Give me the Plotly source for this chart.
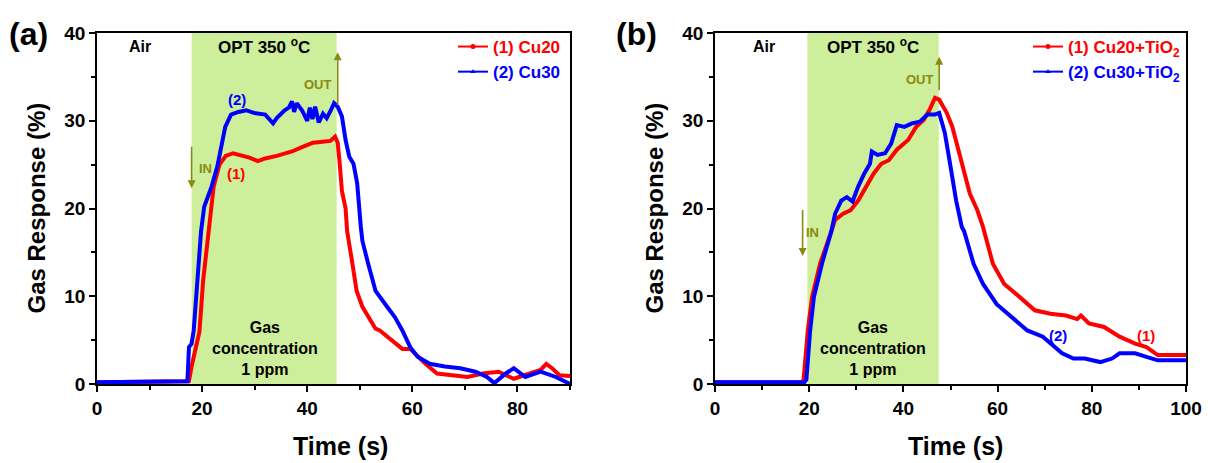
import plotly.graph_objects as go

# ---------------- Data ----------------
# Panel (a)
a_cu20_t = [0, 5, 10, 15, 17.5, 18, 18.5, 19, 19.5, 20.2, 21.3, 22.2, 23.3, 24.5, 25.9, 27.5, 29, 30.6, 32,
            34.2, 37.1, 39, 41.1, 42.9, 44.4, 45.3, 45.8, 46.2, 46.6, 47.3, 47.6, 48.6, 49.4, 50.5, 51.6, 53,
            53.8, 55.2, 56.7, 58.1, 59.6, 61, 62.5, 64.7, 67.6, 70.5, 73.4, 76.4, 79.3, 82.2, 84.4, 85.5, 86.6,
            88, 90]
a_cu20_r = [0.2, 0.2, 0.2, 0.2, 0.3, 2.0, 3.5, 5.0, 6.0, 11.8, 17.4, 22.5, 25.0, 26.0, 26.3, 26.1, 25.8, 25.4,
            25.7, 26.0, 26.5, 27.0, 27.5, 27.6, 27.7, 28.2, 27.5, 25.0, 22.0, 20.0, 17.4, 13.7, 10.6, 8.8, 7.6,
            6.3, 6.1, 5.4, 4.6, 4.0, 4.0, 3.1, 2.3, 1.2, 1.0, 0.8, 1.2, 1.4, 0.6, 1.2, 1.6, 2.3, 1.8, 1.0, 0.9]

a_cu30_t = [0, 5, 10, 15, 17.2, 17.5, 18, 18.4, 18.9, 19.3, 19.8, 20.4, 21.1, 21.8, 22.9, 23.6, 24.4, 25.5,
            26.9, 28.4, 29.8, 32, 33.5, 34.2, 35.7, 36.5, 37.1, 37.5, 38, 39, 40, 40.5, 41, 41.5, 42.2, 43,
            43.7, 44.5, 45.1, 45.8, 46.6, 47.3, 48, 48.8, 49.5, 50.2, 50.5, 51.6, 53, 55.2, 56.7, 58.1, 59.6,
            61, 63.3, 66.2, 69.1, 72, 74.2, 75.6, 77.8, 79.3, 81.5, 84.4, 87.3, 90]
a_cu30_r = [0.2, 0.2, 0.2, 0.2, 0.3, 4.2, 4.6, 6.1, 9.9, 13.7, 17.4, 20.2, 21.3, 22.5, 24.8, 27.0, 29.3, 30.7,
            31.0, 31.2, 30.9, 30.7, 29.7, 30.3, 31.2, 31.5, 32.2, 31.0, 32.0, 31.2, 30.0, 31.5, 30.2, 31.6,
            29.8, 30.8, 30.3, 31.2, 32.0, 31.6, 30.5, 27.8, 25.9, 25.1, 22.9, 17.9, 16.3, 13.7, 10.6, 8.8,
            7.6, 6.1, 4.2, 3.1, 2.3, 2.0, 1.8, 1.4, 0.8, 0.1, 1.2, 1.8, 0.8, 1.4, 0.8, 0.0]

# Panel (b)
b_cu20_t = [0, 5, 10, 15, 18.5, 18.8, 19.7, 20.6, 22.3, 24.7, 25.5, 27.2, 28.8, 30.4, 32, 33.7, 35.3, 36.9,
            38.6, 41, 42.7, 44.3, 45.5, 46.7, 47.6, 49.2, 50.4, 51.6, 52.9, 54.1, 55.7, 56.9, 59, 61.4, 64.7,
            67.9, 71.2, 74.5, 76.9, 77.7, 79.4, 82.6, 85.9, 89.2, 91.6, 94, 100]
b_cu20_r = [0.2, 0.2, 0.2, 0.2, 0.2, 0.5, 6.1, 9.9, 13.7, 17.4, 18.7, 19.4, 19.8, 20.9, 22.5, 24.0, 25.1,
            25.5, 26.7, 27.8, 29.3, 30.1, 31.2, 32.6, 32.4, 30.9, 29.3, 26.7, 24.0, 21.7, 19.8, 17.9, 13.7,
            11.4, 9.9, 8.4, 8.0, 7.8, 7.4, 7.8, 6.9, 6.5, 5.4, 4.6, 4.2, 3.3, 3.3]

b_cu30_t = [0, 5, 10, 15, 19, 19.4, 20.2, 21, 22.7, 24.7, 25.5, 26.8, 28, 29.2, 30.4, 31.7, 32.9, 33.3, 34.5,
            36.1, 37.4, 38.6, 40.2, 41.8, 43.5, 45.1, 46.7, 47.6, 48.8, 50, 51.2, 52.4, 52.9, 54.9, 56.9,
            59.8, 63, 66.3, 69.6, 71.2, 73.7, 76.1, 78.5, 81.8, 84.3, 85.9, 89.2, 91.6, 94, 100]
b_cu30_r = [0.2, 0.2, 0.2, 0.2, 0.2, 0.5, 6.1, 9.9, 13.7, 17.4, 19.4, 20.9, 21.3, 20.8, 22.5, 24.0, 25.1,
            26.5, 26.1, 26.3, 27.4, 29.5, 29.3, 29.7, 29.9, 30.7, 30.7, 30.9, 28.6, 24.8, 20.9, 17.9, 17.4,
            13.7, 11.4, 9.1, 7.6, 6.1, 5.4, 4.6, 3.5, 2.9, 2.9, 2.5, 2.9, 3.5, 3.5, 3.1, 2.7, 2.7]

a_names = ["(1) Cu20", "(2) Cu30"]
b_names = ["(1) Cu20+TiO<sub>2</sub>", "(2) Cu30+TiO<sub>2</sub>"]
a_gas_window = [18.0, 45.6]
b_gas_window = [19.6, 47.5]
x_ticks_a = [0, 20, 40, 60, 80]
x_ticks_b = [0, 20, 40, 60, 80, 100]
y_ticks = [0, 10, 20, 30, 40]

# ---------------- Styling ----------------
RED = "#ff0000"
BLUE = "#0000ff"
GREEN = "#cdee9a"
OLIVE = "#8a8a10"
FONT = "Liberation Sans, Arial, sans-serif"
W, H = 1208, 463

fig = go.Figure()

def add_panel(xa, ya, t1, r1, t2, r2, names, legend):
    fig.add_trace(go.Scatter(x=t1, y=r1, mode="lines", line=dict(color=RED, width=4),
                             xaxis=xa, yaxis=ya, showlegend=False))
    fig.add_trace(go.Scatter(x=t2, y=r2, mode="lines", line=dict(color=BLUE, width=4),
                             xaxis=xa, yaxis=ya, showlegend=False))
    fig.add_trace(go.Scatter(x=[None], y=[None], mode="lines+markers",
                             line=dict(color=RED, width=2), marker=dict(symbol="circle", size=5, color=RED),
                             name=f"<span style='color:{RED}'>{names[0]}</span>",
                             xaxis=xa, yaxis=ya, legend=legend))
    fig.add_trace(go.Scatter(x=[None], y=[None], mode="lines+markers",
                             line=dict(color=BLUE, width=2), marker=dict(symbol="triangle-up", size=5, color=BLUE),
                             name=f"<span style='color:{BLUE}'>{names[1]}</span>",
                             xaxis=xa, yaxis=ya, legend=legend))

add_panel("x", "y", a_cu20_t, a_cu20_r, a_cu30_t, a_cu30_r, a_names, "legend")
add_panel("x2", "y2", b_cu20_t, b_cu20_r, b_cu30_t, b_cu30_r, b_names, "legend2")

ydom = [79 / H, 430 / H]
xdom_a = [97 / W, 570 / W]
xdom_b = [715 / W, 1186 / W]

tickfont = dict(family=FONT, size=19, color="black")

def xaxis(dom, rng, ticks, anchor):
    return dict(domain=dom, range=rng, tickvals=ticks, ticktext=[f"<b>{t}</b>" for t in ticks],
                ticks="outside", ticklen=6, tickwidth=1.5, automargin=False,
                tickcolor="black", showline=True, linewidth=1.5, linecolor="black", mirror=True,
                showgrid=False, zeroline=False, tickfont=tickfont, anchor=anchor,
                minor=dict(dtick=10, ticks="outside", ticklen=4, tickwidth=1.5, tickcolor="black", showgrid=False))

def yaxis(anchor):
    return dict(domain=ydom, range=[0, 40], tickvals=y_ticks, ticktext=[f"<b>{t}</b>" for t in y_ticks],
                ticks="outside", ticklen=6, tickwidth=1.5, automargin=False,
                tickcolor="black", showline=True, linewidth=1.5, linecolor="black", mirror=True,
                showgrid=False, zeroline=False, tickfont=tickfont, anchor=anchor,
                minor=dict(dtick=5, ticks="outside", ticklen=4, tickwidth=1.5, tickcolor="black", showgrid=False))

shapes = []
for xr, (lo, hi) in (("x", a_gas_window), ("x2", b_gas_window)):
    shapes.append(dict(type="rect", xref=xr, yref=("y" if xr == "x" else "y2") + " domain",
                       x0=lo, x1=hi, y0=0, y1=1, fillcolor=GREEN, line=dict(width=0), layer="below"))

annots = []
def txt(text, x, y, xr, yr, size=16, color="black", xanchor="center", yanchor="middle", **kw):
    annots.append(dict(text=f"<b>{text}</b>", x=x, y=y, xref=xr, yref=yr, showarrow=False,
                       xanchor=xanchor, yanchor=yanchor,
                       font=dict(family=FONT, size=size, color=color), **kw))

def arrow(x, y0, y1, xr, yr):
    annots.append(dict(text="", x=x, y=y1, ax=x, ay=y0, xref=xr, yref=yr, axref=xr, ayref=yr,
                       showarrow=True, arrowhead=2, arrowsize=1, arrowwidth=1.6, arrowcolor=OLIVE))

# panel (a)
txt("Air", 8.2, 38.5, "x", "y")
txt("OPT 350 <sup>o</sup>C", 31.8, 38.5, "x", "y", size=17)
txt("Gas<br>concentration<br>1 ppm", 31.9, 4.1, "x", "y", align="center")
txt("(1)", 26.4, 24.0, "x", "y", size=15, color=RED)
txt("(2)", 26.6, 32.4, "x", "y", size=15, color=BLUE)
arrow(18.0, 27.2, 22.3, "x", "y")
txt("IN", 19.0, 24.6, "x", "y", size=13, color=OLIVE, xanchor="left")
arrow(45.8, 31.6, 37.8, "x", "y")
txt("OUT", 45.0, 34.1, "x", "y", size=13, color=OLIVE, xanchor="right")

# panel (b)
txt("Air", 10.4, 38.5, "x2", "y2")
txt("OPT 350 <sup>o</sup>C", 33.6, 38.5, "x2", "y2", size=17)
txt("Gas<br>concentration<br>1 ppm", 33.6, 4.1, "x2", "y2", align="center")
txt("(2)", 72.8, 5.5, "x2", "y2", size=15, color=BLUE)
txt("(1)", 91.6, 5.5, "x2", "y2", size=15, color=RED)
arrow(18.6, 20.0, 14.6, "x2", "y2")
txt("IN", 19.0, 17.3, "x2", "y2", size=13, color=OLIVE, xanchor="left")
arrow(47.6, 33.3, 37.3, "x2", "y2")
txt("OUT", 46.9, 34.7, "x2", "y2", size=13, color=OLIVE, xanchor="right")

# axis titles and panel labels
for xc in (340 / W, 955 / W):
    txt("Time (s)", xc, (H - 446) / H, "paper", "paper", size=25)
for xc in (36 / W, 654 / W):
    txt("Gas Response (%)", xc, (H - 208.5) / H, "paper", "paper", size=24, textangle=-90)
txt("(a)", 28 / W, (H - 34) / H, "paper", "paper", size=32)
txt("(b)", 636 / W, (H - 34) / H, "paper", "paper", size=32)

legfont = dict(family=FONT, size=17, color="black", weight="bold")
fig.update_layout(
    template="none",
    width=W, height=H, margin=dict(l=0, r=0, t=0, b=0, autoexpand=False),
    paper_bgcolor="white", plot_bgcolor="white",
    xaxis=xaxis(xdom_a, [0, 90], x_ticks_a, "y"),
    yaxis=yaxis("x"),
    xaxis2=xaxis(xdom_b, [0, 100], x_ticks_b, "y2"),
    yaxis2=yaxis("x2"),
    shapes=shapes, annotations=annots,
    legend=dict(x=566 / W, y=(H - 29) / H, xanchor="right", yanchor="top", font=legfont,
                bgcolor="rgba(0,0,0,0)", borderwidth=0, tracegroupgap=0, itemclick=False),
    legend2=dict(x=1186 / W, y=(H - 29) / H, xanchor="right", yanchor="top", font=legfont,
                 bgcolor="rgba(0,0,0,0)", borderwidth=0, tracegroupgap=0, itemclick=False),
)

fig.write_html("out.html")
